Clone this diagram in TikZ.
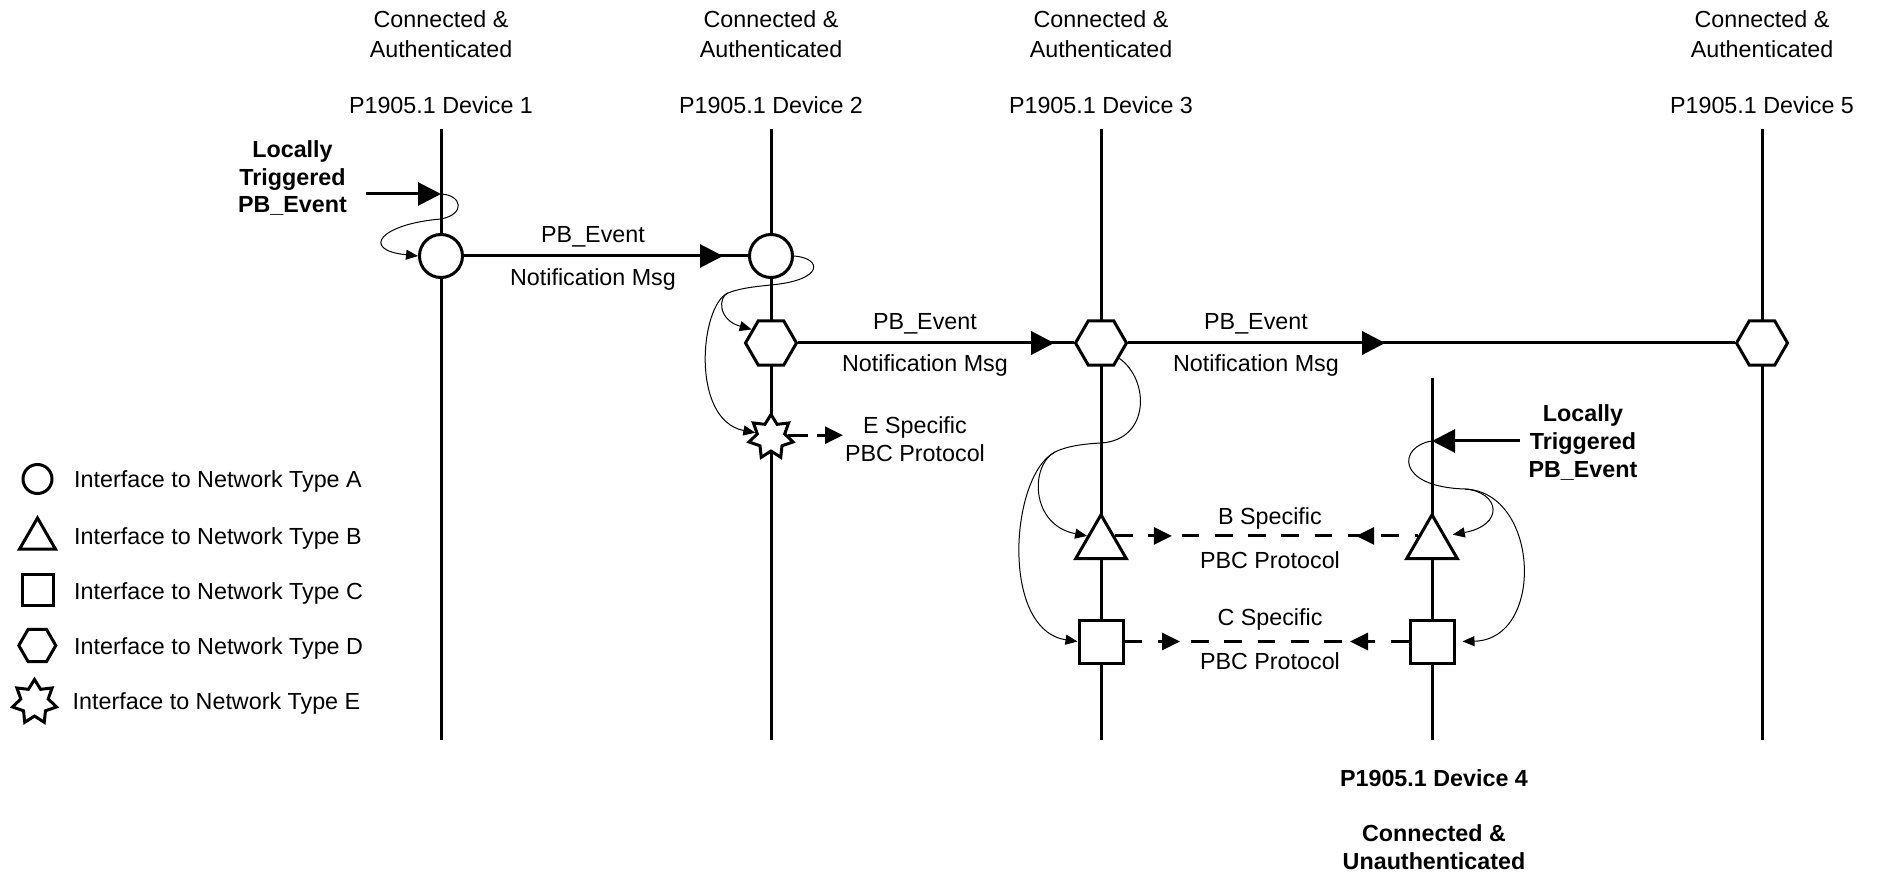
\documentclass[tikz,border=0pt]{standalone}
\usepackage{fontspec}
\setmainfont{Liberation Sans}
\usetikzlibrary{shapes.geometric,arrows.meta,decorations.markings}
\begin{document}
\begin{tikzpicture}[x=1pt,y=-1pt,
  lbl/.style={font=\fontsize{23.3}{28}\selectfont, inner sep=0pt, anchor=base},
  lblb/.style={lbl, font=\fontsize{23.3}{28}\selectfont\bfseries},
  lifeline/.style={line width=3pt},
  sym/.style={draw, line width=3pt, fill=white, inner sep=0pt},
  ifa/.style={sym, circle, minimum size=43pt},
  ifb/.style={sym, regular polygon, regular polygon sides=3, minimum size=58.4pt},
  ifc/.style={sym, rectangle, minimum width=44pt, minimum height=43pt},
  ifd/.style={sym, regular polygon, regular polygon sides=6, minimum size=51pt},
  ife/.style={sym, star, star points=7, star point ratio=1.6, minimum size=45pt},
  msgarrow/.style={line width=3pt, postaction={decorate, decoration={markings,
      mark=at position #1 with {\arrow{Triangle[length=23pt,width=23pt]}}}}},
  proto/.style 2 args={line width=3pt, dash pattern=on 17.7pt off 15.6pt,
    postaction={decorate, decoration={markings,
      mark=at position #1 with {\arrow{Triangle[length=18pt,width=17pt]}},
      mark=at position #2 with {\arrowreversed{Triangle[length=18pt,width=17pt]}}}}},
  eproto/.style={line width=3pt, dash pattern=on 20pt off 9pt, -{Triangle[length=18pt,width=17pt]}},
  trig/.style={line width=3pt, -{Triangle[length=23pt,width=23pt]}},
  hop/.style={line width=1pt, -{Triangle[length=12pt,width=10pt]}},
  hopline/.style={line width=1pt}
]
\useasboundingbox (0,0) rectangle (1883,874);

% device headers
\foreach \n/\x in {1/441,2/771,3/1101,5/1762} {
  \node[lbl] (con\n) at (\x,27.5) {Connected \&};
  \node[lbl] (aut\n) at (\x,57.5) {Authenticated};
  \node[lbl] (dev\n) at (\x,113.5) {P1905.1 Device \n};
}

% lifelines
\foreach \n/\x/\t in {1/441/129,2/771/129,3/1101/129,4/1432/378,5/1762/129} {
  \coordinate (top\n) at (\x,\t);
  \coordinate (bot\n) at (\x,740);
  \draw[lifeline] (top\n) -- (bot\n);
}

% device 4 footer
\node[lblb] (dev4) at (1434,786.5) {P1905.1 Device 4};
\node[lblb] (con4) at (1434,841.5) {Connected \&};
\node[lblb] (aut4) at (1434,869) {Unauthenticated};

% interfaces on the lifelines
\node[ifa] (c1) at (441,256) {};
\node[ifa] (c2) at (771,256) {};
\node[ifd] (h2) at (771,343) {};
\node[ifd] (h3) at (1101,343) {};
\node[ifd] (h5) at (1762,343) {};
\node[ife] (s2) at (771,437) {};
\node[ifb] (t3) at (1101,544) {};
\node[ifb] (t4) at (1432,544) {};
\node[ifc] (q3) at (1101,641.5) {};
\node[ifc] (q4) at (1432,641.5) {};

% notification messages
\draw[msgarrow=259pt] (c1) -- (c2);
\draw[msgarrow=256pt] (h2) -- (h3);
\draw[msgarrow=257pt] (h3) -- (h5);
\node[lbl] (m1a) at (593,243) {PB\_Event};
\node[lbl] (m1b) at (593,285.7) {Notification Msg};
\node[lbl] (m2a) at (925,330) {PB\_Event};
\node[lbl] (m2b) at (925,372) {Notification Msg};
\node[lbl] (m3a) at (1256,330) {PB\_Event};
\node[lbl] (m3b) at (1256,372) {Notification Msg};

% PBC protocol exchanges
\coordinate (eend) at (843,434);
\draw[eproto] (s2.6) -- (s2.6 -| eend);
\node[lbl] (ea) at (915,434) {E Specific};
\node[lbl] (eb) at (915,461.5) {PBC Protocol};

\draw[proto={57pt}{-62pt}] (t3.side 3) -- (t4.side 1);
\node[lbl] (ba) at (1270,524.4) {B Specific};
\node[lbl] (bb) at (1270,568.5) {PBC Protocol};

\draw[proto={55.5pt}{-58.5pt}] (q3) -- (q4);
\node[lbl] (ca) at (1270,625.7) {C Specific};
\node[lbl] (cb) at (1270,669) {PBC Protocol};

% local triggers
\node[lblb] (l1a) at (292.5,157.5) {Locally};
\node[lblb] (l1b) at (292.5,185.5) {Triggered};
\node[lblb] (l1c) at (292.5,212.5) {PB\_Event};
\coordinate (src1) at (366,194);
\coordinate (trig1) at (441,194);
\draw[trig] (src1) -- (trig1);

\node[lblb] (l4a) at (1583,421.5) {Locally};
\node[lblb] (l4b) at (1583,449.5) {Triggered};
\node[lblb] (l4c) at (1583,477.5) {PB\_Event};
\coordinate (src4) at (1520,441);
\coordinate (trig4) at (1432,441);
\draw[trig] (src4) -- (trig4);

% internal hand-over inside each device
\draw[hop] (trig1) .. controls (462,195) and (466,214) .. (441,219)
  .. controls (380,224) and (360,250) .. (c1.west);

\draw[hopline] (c2.east) .. controls (822,258) and (825,280) .. (771,285)
  .. controls (750,287) and (738,289) .. (728,293) coordinate (j2);
\draw[hop] (j2) .. controls (718,297) and (718,320) .. (h2.145);
\draw[hop] (j2) .. controls (700,305) and (690,420) .. (s2.165);

\draw[hopline] (h3.-40) .. controls (1150,380) and (1150,440) .. (1101,443)
  .. controls (1080,444) and (1065,447) .. (1055,452) coordinate (j3);
\draw[hop] (j3) .. controls (1030,465) and (1030,525) .. (t3.side 1);
\draw[hop] (j3) .. controls (1010,475) and (1000,630) .. (q3.west);

\draw[hopline] (trig4) .. controls (1398,446) and (1395,487) .. (1465,489) coordinate (j4);
\draw[hop, shorten >=7pt] (j4) .. controls (1500,492) and (1505,525) .. (t4.side 3);
\draw[hop, shorten >=7pt] (j4) .. controls (1540,492) and (1545,640) .. (q4.east);

% legend
\node[ifa, minimum size=29pt] (la) at (37.5,479) {};
\node[ifb, minimum size=41.6pt] (lb) at (37.5,538.8) {};
\node[ifc, minimum width=31pt, minimum height=31pt] (lc) at (37.5,590) {};
\node[ifd, minimum size=37pt] (ld) at (37.3,645.5) {};
\node[ife] (le) at (34.5,702) {};
\node[lbl, anchor=base west] (lta) at (74,487.5) {Interface to Network Type A};
\node[lbl, anchor=base west] (ltb) at (74,544) {Interface to Network Type B};
\node[lbl, anchor=base west] (ltc) at (74,599) {Interface to Network Type C};
\node[lbl, anchor=base west] (ltd) at (74,654) {Interface to Network Type D};
\node[lbl, anchor=base west] (lte) at (72.5,709) {Interface to Network Type E};
\end{tikzpicture}
\end{document}
